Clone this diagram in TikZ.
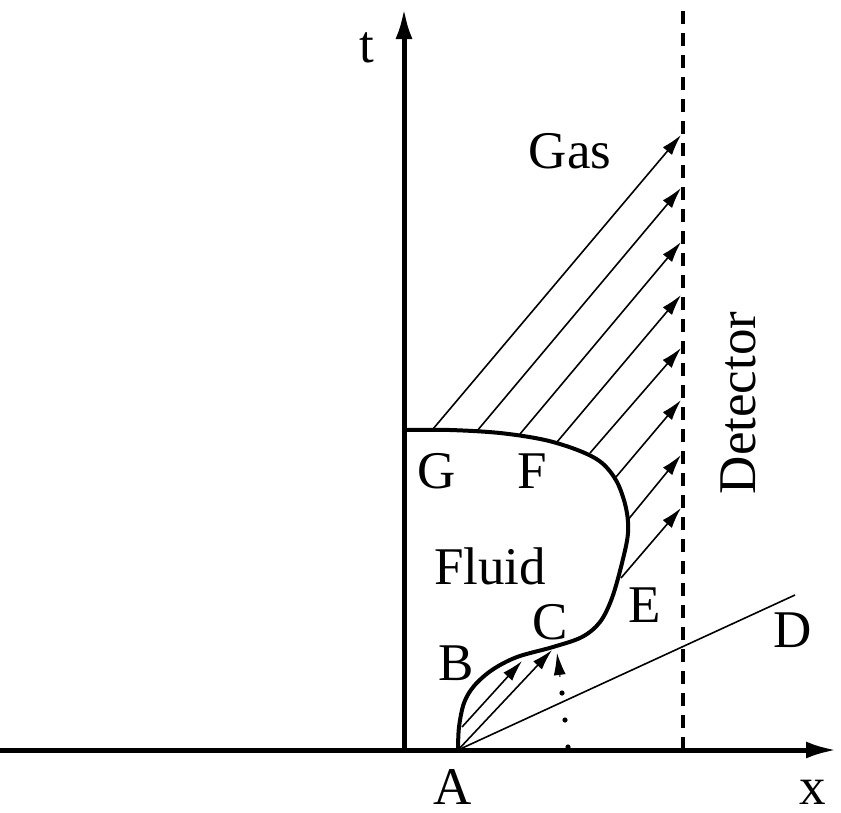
\documentclass[tikz,border=0pt]{standalone}
\usepackage{fontspec}
\setmainfont{Liberation Serif}
\usetikzlibrary{arrows.meta,calc}
\begin{document}
\begin{tikzpicture}[x=1pt,y=-1pt,
  lab/.style={font=\fontsize{53}{60}\selectfont, inner sep=0pt, anchor=base},
  axis/.style={line width=5pt, -{Latex[length=31pt,width=17pt]}},
  ray/.style={line width=1.6pt, -{Latex[length=21pt,width=12pt]}},
  bound/.style={line width=4pt, line join=round},
  det/.style={line width=3.8pt, dash pattern=on 13pt off 9pt},
  dot/.style={fill=black}]
\useasboundingbox (0,0) rectangle (841,812);
% axes
\coordinate (xl) at (0,750);
\coordinate (xr) at (837,750);
\coordinate (O) at (404,750);
\coordinate (ttop) at (404,8);
\draw[axis] (xl) -- (xr);
\draw[axis] (O) -- (ttop);
% detector
\coordinate (db) at (683,750);
\coordinate (dt) at (683,10);
\draw[det] (db) -- (dt);
% boundary
\draw[bound] plot[smooth, tension=0.55] coordinates {
 (458,750) (459,727) (464,703) (474,686) (492,670) (517,657) (553,647)
 (582,637) (600,622) (612,598) (622,563) (628,533) (626,508) (617,482)
 (602,463) (580,451) (545,440) (500,433) (450,430) (404,430)};
% gas rays
\foreach \sx/\sy/\ty [count=\i] in {433/429/135, 477/431/188, 520/434/242, 557/442/295,
  590/453/348, 616/477/400, 627/521/455, 621/578/508}{
  \coordinate (s\i) at (\sx,\sy);
  \coordinate (e\i) at (681,\ty);
  \draw[ray] (s\i) -- (e\i);
}
% lower rays
\coordinate (A) at (458,750);
\coordinate (b1) at (462,727);
\coordinate (c1) at (522,661);
\coordinate (c2) at (552,650);
\draw[ray] (b1) -- (c1);
\draw[ray] (A) -- (c2);
\coordinate (Dend) at (795,595);
\draw[line width=1.6pt] (A) -- (Dend);
% dotted arrow
\coordinate (p0) at (568,747);
\coordinate (p1) at (565,720);
\coordinate (p2) at (562,693);
\coordinate (p3) at (560,677);
\coordinate (p4) at (557,653);
\foreach \p in {p0,p1,p2}{\fill[dot] (\p) circle (2.6pt);}
\draw[line width=1pt, -{Latex[length=22pt,width=12pt]}] (p3) -- (p4);
% labels
\node[lab] (lt) at (367,62) {t};
\node[lab] (lx) at (813,804) {x};
\node[lab] (lA) at (453,804) {A};
\node[lab] (lB) at (456,680) {B};
\node[lab] (lC) at (550,639) {C};
\node[lab] (lD) at (793,647) {D};
\node[lab] (lE) at (645,622) {E};
\node[lab] (lF) at (532,488) {F};
\node[lab] (lG) at (437,488) {G};
\node[lab] (lFluid) at (490,584) {Fluid};
\node[lab] (lGas) at (570,168) {Gas};
\node[lab, rotate=90] (lDet) at (755,403) {Detector};
\end{tikzpicture}
\end{document}
